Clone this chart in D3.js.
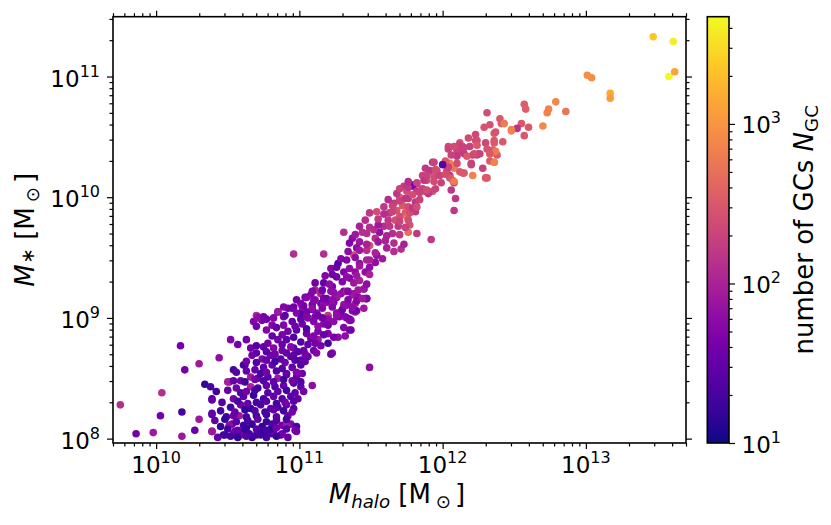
<!DOCTYPE html>
<html>
<head>
<meta charset="utf-8">
<script src="https://cdn.jsdelivr.net/npm/d3@7"></script>
<style>
body{margin:0;background:#fff}
text{font-family:"DejaVu Sans",sans-serif;fill:#000}
</style>
</head>
<body>
<svg id="svg" width="831" height="525"></svg>
<script>
// log10 values: halo mass, stellar mass, number of GCs
var haloLog = [
  // massive end
  13.47,13.61,13.58,13.62,13.01,13.04,13.17,13.17,12.79,12.74,
  12.73,12.86,12.70,12.57,12.58,12.55,12.60,12.57,12.52,12.31,
  12.40,12.41,12.43,12.29,12.33,12.36,12.48,12.42,12.36,12.30,
  12.23,12.23,12.18,12.26,12.24,12.21,12.33,12.35,12.38,12.36,
  12.33,12.04,12.12,12.14,12.12,12.10,12.05,12.20,12.14,12.21,
  12.30,12.28,12.06,12.07,12.08,12.09,12.08,11.92,12.05,
  11.93,11.91,11.96,11.94,11.98,12.03,12.04,12.12,12.24,12.15,
  12.10,12.08,12.12,12.15,12.05,12.08,12.19,12.25,12.31,12.36,
  12.37,12.33,12.36,12.31,12.20,12.48,12.37,
  // middle of the relation
  11.89,11.86,11.82,11.79,11.79,11.73,11.75,11.82,11.88,11.93,
  11.86,11.70,11.76,11.81,11.66,11.72,11.76,11.68,11.74,11.81,
  11.63,11.54,11.62,11.67,11.70,11.75,11.77,11.82,11.76,11.69,
  11.59,11.65,11.56,11.52,11.44,11.53,11.60,11.71,11.61,11.49,
  11.42,11.47,11.31,11.37,11.40,11.54,11.38,10.96,11.17,11.27,
  11.33,11.42,11.47,11.53,11.22,11.31,11.39,11.46,11.26,11.35,
  11.42,11.17,11.45,11.11,11.23,11.31,11.38,11.26,11.47,11.05,
  11.15,11.19,11.34,11.40,11.29,10.96,10.85,11.01,11.11,11.20,
  11.35,
  // dwarf core
  11.08,11.15,11.22,11.29,11.37,11.46,11.33,
  11.01,11.09,11.17,11.24,11.31,11.39,11.37,
  10.70,10.85,10.92,10.98,11.05,11.12,11.20,11.26,11.33,11.39,
  10.68,10.74,10.81,10.95,11.02,11.10,11.17,11.24,11.35,
  10.77,10.92,10.98,11.05,11.13,11.20,11.27,11.35,
  10.52,10.63,10.85,10.91,11.01,11.08,11.13,11.20,11.23,
  10.66,10.75,10.82,10.88,10.96,11.03,11.10,11.15,
  10.44,10.67,10.74,10.80,10.87,10.94,11.01,11.06,10.96,
  10.54,10.61,10.69,10.75,10.81,10.88,10.95,11.01,
  10.51,10.59,10.66,10.71,10.78,10.85,10.91,10.98,11.02,
  10.34,10.38,10.56,10.66,10.71,10.77,10.83,10.89,10.96,11.01,11.09,
  10.39,10.54,10.61,10.68,10.75,10.82,10.88,10.94,10.99,
  10.52,10.59,10.66,10.73,10.80,10.85,10.91,10.96,
  10.39,10.49,10.58,10.63,10.70,10.77,10.84,10.92,
  10.45,10.53,10.61,10.67,10.74,10.81,10.88,10.94,10.98,
  10.39,10.47,10.54,10.61,10.67,10.73,10.81,10.87,10.97,
  // scattered low-mass ones
  9.75,9.86,9.98,10.04,10.03,10.17,10.20,10.18,10.18,10.27,
  10.30,10.30,10.39,10.39,10.39,10.48,10.50,10.54,10.51,10.55,
  10.62,10.71,10.59,10.65,10.70,10.76,10.82,10.88,10.91,10.98,
  10.73,10.80,11.22,11.49,11.36,11.36,11.39,11.45,11.47,
  // more of the dwarf core
  11.04,11.11,11.19,11.26,11.34,11.41,
  10.95,11.02,11.09,11.16,11.23,11.30,11.37,
  10.71,10.77,10.89,11.01,11.06,11.13,11.20,11.28,
  10.70,10.84,10.89,10.97,11.05,11.13,11.20,11.31,
  10.81,10.88,10.96,11.10,11.17,11.24,11.32,
  10.57,10.70,10.78,10.88,10.94,11.06,11.11,
  10.70,10.77,10.83,10.91,10.99,11.04,11.12,
  10.63,10.70,10.77,10.83,10.90,10.97,11.04,
  10.56,10.63,10.73,10.77,10.84,10.91,10.98,
  10.54,10.62,10.69,10.75,10.82,10.89,10.95,11.01,
  10.42,10.50,10.59,10.63,10.69,10.78,10.85,10.91,10.97,11.03,
  10.46,10.57,10.64,10.70,10.77,10.84,10.90,10.96,
  10.45,10.55,10.62,10.69,10.76,10.82,10.89,10.95,
  10.41,10.48,10.56,10.64,10.71,10.77,10.84,10.91,
  10.50,10.57,10.63,10.70,10.77,10.84,10.91,
  10.43,10.52,10.57,10.63,10.77,10.84,10.92,
  // more of the middle band
  10.75,10.82,10.90,11.05,11.16,11.26,11.32,
  10.89,11.03,11.09,11.23,11.32,11.45,
  10.98,11.10,11.17,11.23,11.40,11.44,
  11.09,11.16,11.24,11.34,11.41,
  11.11,11.21,11.30,11.38,11.47,
  11.18,11.23,11.33,11.40,11.49,
  11.26,11.35,11.42,11.49,
  11.29,11.39,11.49,11.58,
  11.34,11.42,11.53,11.66,
  11.35,11.47,11.55,11.66,11.73,
  11.39,11.47,11.61,11.70,
  11.42,11.49,11.55,11.63,11.74,
  11.46,11.55,11.70,11.76,
  11.49,11.59,11.65,11.77,
  11.59,11.65,11.79,11.82,
  11.62,11.70,11.74,11.84,
  11.68,11.79,11.84,11.90,
  11.70,11.76,11.89,11.95,
  11.76,11.82,11.87,11.94,11.99,
  11.89,12.02,
  11.88,11.95,12.04,
  11.94,12.02,12.10,
  12.06,12.17,12.22,
  12.08,12.15,12.24,
  12.00
];
var starLog = [
  11.33,11.29,11.00,11.04,11.01,10.99,10.86,10.82,10.79,10.73,
  10.70,10.71,10.59,10.77,10.73,10.61,10.58,10.51,10.57,10.70,
  10.65,10.61,10.61,10.58,10.60,10.53,10.55,10.46,10.47,10.45,
  10.52,10.47,10.49,10.36,10.35,10.35,10.36,10.39,10.35,10.29,
  10.30,10.42,10.45,10.42,10.38,10.39,10.28,10.27,10.20,10.18,
  10.16,10.24,10.06,10.14,10.12,9.99,9.89,9.65,10.18,
  10.29,10.22,10.22,10.17,10.18,10.22,10.40,10.43,10.47,10.36,
  10.34,10.24,10.21,10.20,10.16,10.13,10.42,10.36,10.40,10.45,
  10.38,10.36,10.29,10.16,10.28,10.56,10.54,
  10.14,10.18,10.11,10.09,10.10,10.09,10.05,10.05,10.05,10.05,
  10.07,10.00,9.99,9.96,9.95,9.93,9.92,9.89,9.87,9.88,
  9.87,9.88,9.81,9.81,9.84,9.84,9.77,9.70,9.71,9.76,
  9.76,9.70,9.71,9.73,9.71,9.66,9.64,9.57,9.58,9.60,
  9.63,9.56,9.71,9.66,9.58,9.52,9.52,9.53,9.53,9.45,
  9.48,9.45,9.48,9.46,9.41,9.38,9.38,9.38,9.34,9.33,
  9.31,9.29,9.24,9.23,9.26,9.22,9.20,9.17,9.16,9.17,
  9.12,9.13,9.11,9.06,9.05,9.09,9.05,9.04,9.01,9.01,
  8.99,
  9.19,9.20,9.22,9.20,9.19,9.16,9.22,
  9.12,9.11,9.12,9.13,9.11,9.12,9.06,
  9.02,9.05,9.08,9.04,9.05,9.04,9.02,9.04,9.00,9.05,
  8.97,8.98,8.94,8.97,8.95,8.97,8.95,8.97,8.98,
  8.90,8.89,8.90,8.87,8.89,8.87,8.84,8.90,
  8.82,8.82,8.82,8.82,8.80,8.83,8.82,8.79,8.71,
  8.75,8.76,8.75,8.73,8.75,8.73,8.73,8.77,
  8.67,8.69,8.66,8.69,8.66,8.68,8.65,8.68,8.69,
  8.57,8.61,8.57,8.59,8.61,8.58,8.59,8.61,
  8.47,8.48,8.51,8.50,8.51,8.50,8.53,8.51,8.54,
  8.45,8.43,8.42,8.43,8.42,8.44,8.43,8.44,8.46,8.43,8.44,
  8.33,8.33,8.35,8.36,8.33,8.35,8.33,8.35,8.33,
  8.26,8.28,8.25,8.28,8.25,8.26,8.28,8.25,
  8.20,8.18,8.19,8.18,8.19,8.20,8.18,8.19,
  8.10,8.12,8.11,8.12,8.10,8.12,8.11,8.12,8.10,
  8.06,8.03,8.04,8.06,8.01,8.03,8.04,8.03,8.07,
  8.28,8.04,8.05,8.38,8.19,8.77,8.57,8.22,8.02,8.07,
  8.62,8.16,8.32,8.21,8.06,8.03,8.47,8.19,8.11,8.06,
  8.61,9.01,8.03,8.04,8.03,8.04,8.06,8.04,8.11,8.06,
  8.08,8.08,8.70,8.59,8.90,8.98,9.06,9.24,9.16,
  9.17,9.15,9.16,9.18,9.15,9.17,
  9.08,9.09,9.07,9.08,9.10,9.07,9.09,
  9.00,8.99,9.01,8.99,9.00,9.02,8.99,9.01,
  8.93,8.92,8.94,8.93,8.91,8.93,8.94,8.92,
  8.85,8.86,8.84,8.85,8.86,8.84,8.85,
  8.78,8.77,8.79,8.78,8.76,8.78,8.79,
  8.71,8.72,8.70,8.71,8.72,8.70,8.71,
  8.64,8.63,8.65,8.64,8.63,8.65,8.64,
  8.55,8.56,8.54,8.55,8.56,8.54,8.55,
  8.48,8.47,8.49,8.48,8.47,8.49,8.48,8.47,
  8.39,8.40,8.38,8.39,8.40,8.38,8.39,8.40,8.38,8.39,
  8.30,8.31,8.29,8.30,8.31,8.29,8.30,8.31,
  8.23,8.22,8.24,8.23,8.22,8.24,8.23,8.22,
  8.15,8.16,8.14,8.15,8.16,8.14,8.15,8.16,
  8.08,8.07,8.09,8.08,8.07,8.09,8.08,
  8.01,8.02,8.01,8.02,8.01,8.02,8.01,
  9.01,9.00,9.02,9.01,9.00,9.02,9.01,
  9.09,9.10,9.08,9.09,9.10,9.08,
  9.15,9.14,9.16,9.15,9.14,9.16,
  9.22,9.23,9.21,9.22,9.23,
  9.29,9.28,9.30,9.29,9.28,
  9.35,9.36,9.34,9.35,9.36,
  9.42,9.41,9.43,9.42,
  9.49,9.50,9.48,9.49,
  9.55,9.56,9.54,9.55,
  9.62,9.61,9.63,9.62,9.61,
  9.69,9.70,9.68,9.69,
  9.76,9.75,9.77,9.76,9.75,
  9.81,9.82,9.80,9.81,
  9.87,9.86,9.88,9.87,
  9.92,9.93,9.91,9.92,
  9.98,9.97,9.99,9.98,
  10.03,10.02,10.04,10.03,
  10.07,10.08,10.06,10.07,
  10.13,10.12,10.14,10.13,10.12,
  10.18,10.19,
  10.24,10.23,10.25,
  10.29,10.30,10.28,
  10.35,10.34,10.36,
  10.42,10.41,10.43,
  10.27
];
var ngcLog = [
  3.35,3.60,3.67,3.10,2.95,2.95,3.15,3.05,2.90,2.85,
  2.85,2.75,2.90,2.55,2.55,2.50,2.50,2.50,2.15,2.40,
  2.50,2.50,2.80,2.45,2.45,2.50,2.85,2.50,2.50,2.35,
  2.35,2.35,2.40,2.30,2.30,2.30,2.80,2.50,2.50,2.80,
  2.50,2.40,2.45,2.45,2.30,2.30,2.80,2.30,2.50,2.85,
  2.50,2.30,2.20,2.80,2.20,2.20,2.20,2.20,2.20,
  2.2,2.2,2.4,2.4,2.3,2.3,2.3,2.3,2.4,2.2,
  2.2,2.8,2.5,2.5,2.5,2.8,2.3,2.3,2.45,2.5,
  2.8,2.5,2.85,2.5,2.3,2.85,2.45,
  2.4,2.3,2.2,2.1,1.6,2.2,2.4,2.2,2.3,2.4,
  2.3,2.6,2.2,2.2,2.2,2.5,2.4,2.45,2.5,2.2,
  2.2,2.4,2.2,2.4,2.4,2.7,2.45,2.2,2.7,2.2,
  2.1,2.1,1.8,2.1,2.1,2.1,2.0,2.1,2.0,2.4,
  1.9,2.1,2.1,1.8,1.8,1.8,2.4,2.1,2.1,1.4,
  1.7,1.8,2.0,1.8,1.7,1.7,1.8,1.8,1.6,1.7,
  2.0,1.5,1.8,2.0,1.6,1.7,1.7,1.6,1.8,1.7,
  1.6,1.7,1.8,1.7,1.6,1.6,1.6,1.4,1.6,2.0,
  1.3,
  1.7,2.0,1.8,1.8,1.9,1.7,2.0,
  1.7,1.6,1.8,1.7,1.9,2.0,1.7,
  2.1,1.9,1.6,1.7,1.6,1.8,2.2,1.8,1.7,1.9,
  1.7,1.6,1.7,1.5,1.6,1.7,1.7,1.8,1.8,
  1.7,1.6,1.4,1.6,1.7,1.7,1.8,1.8,
  1.7,1.6,1.6,1.5,1.4,1.6,1.9,1.3,1.8,
  1.6,1.5,1.7,1.6,1.4,1.6,1.6,1.6,
  1.8,1.6,1.7,1.6,1.4,1.4,1.5,1.6,1.5,
  1.3,1.3,1.5,1.5,1.5,1.4,1.5,1.4,
  1.7,1.6,1.9,1.4,1.4,1.9,1.4,1.5,1.6,
  1.2,1.3,1.6,2.0,1.3,1.5,1.4,1.5,1.4,1.5,1.8,
  1.3,1.6,1.4,1.2,1.3,1.5,1.4,1.4,1.5,
  1.3,1.6,1.2,1.4,1.5,1.4,1.5,1.4,
  1.3,1.3,1.9,1.3,1.2,1.3,1.5,1.6,
  1.2,1.6,1.3,1.2,1.2,1.4,1.6,1.7,1.3,
  1.6,1.2,1.6,1.2,1.2,1.3,1.3,1.3,1.6,
  2.1,1.6,1.9,2.1,1.6,1.6,1.6,1.3,1.9,1.5,
  1.9,1.9,1.5,1.5,1.9,1.3,2.0,1.6,1.8,1.6,
  1.3,1.9,1.6,1.3,1.3,1.2,1.6,1.6,1.9,1.6,
  1.2,1.2,1.6,1.8,1.6,1.7,1.6,1.9,1.7,
  1.7,1.8,1.6,1.9,1.7,1.8,
  1.6,1.8,1.5,1.7,1.9,1.6,1.8,
  1.8,1.6,1.7,1.5,1.7,1.6,1.8,1.7,
  1.6,1.5,1.7,1.6,1.4,1.8,1.6,1.7,
  1.5,1.6,1.4,1.7,1.5,1.6,1.8,
  1.6,1.4,1.6,1.5,1.7,1.5,1.6,
  1.5,1.4,1.6,1.5,1.4,1.6,1.7,
  1.6,1.4,1.5,1.3,1.6,1.4,1.5,
  1.4,1.5,1.3,1.6,1.4,1.5,1.7,
  1.5,1.3,1.6,1.4,1.5,1.3,1.6,1.4,
  1.3,1.5,1.4,1.6,1.3,1.4,1.5,1.3,1.5,1.6,
  1.4,1.3,1.5,1.3,1.4,1.3,1.6,1.4,
  1.3,1.5,1.2,1.4,1.3,1.5,1.3,1.6,
  1.5,1.2,1.4,1.3,1.5,1.2,1.4,1.3,
  1.3,1.5,1.2,1.4,1.3,1.6,1.4,
  1.5,1.3,1.2,1.4,1.3,1.2,1.5,
  1.6,1.7,1.5,1.7,1.6,1.8,1.7,
  1.7,1.6,1.8,1.7,1.8,1.9,
  1.6,1.7,1.6,1.8,1.7,1.9,
  1.7,1.6,1.8,1.7,1.9,
  1.6,1.8,1.7,1.9,1.8,
  1.7,1.6,1.8,1.9,2.0,
  1.5,1.8,1.9,1.8,
  1.7,1.8,2.0,1.9,
  1.8,1.9,2.0,2.1,
  1.7,2.0,1.9,2.1,2.0,
  1.9,2.1,2.0,2.2,
  2.0,2.1,1.9,2.2,2.3,
  2.1,2.2,2.3,2.4,
  2.2,2.1,2.3,2.4,
  2.2,2.3,2.2,2.4,
  2.1,2.3,2.2,2.3,
  2.2,2.4,2.3,2.2,
  2.3,2.2,2.4,2.3,
  2.1,2.3,2.2,2.4,2.3,
  2.3,2.4,
  2.2,2.4,2.3,
  2.3,2.5,2.4,
  2.3,2.5,2.4,
  2.4,2.3,2.5,
  1.4
];

// ticks: [value, exponent text]
var xTicks = [[1e10,"10"],[1e11,"11"],[1e12,"12"],[1e13,"13"]];
var yTicks = [[1e8,"8"],[1e9,"9"],[1e10,"10"],[1e11,"11"]];
var cTicks = [[10,"1"],[100,"2"],[1000,"3"]];

var L = 113, R = 686, T = 16.7, B = 443;
var svg = d3.select("svg");

var x = d3.scaleLog().domain([5e9, 5e13]).range([L, R]);
var y = d3.scaleLog().domain([9.2e7, 3.13e11]).range([B, T]);
var color = d3.scaleSequentialLog(d3.interpolatePlasma).domain([10, 4700]);

var pts = haloLog.map(function(h, i){
  return {mh: Math.pow(10, h), ms: Math.pow(10, starLog[i]), n: Math.pow(10, ngcLog[i])};
});

svg.append("clipPath").attr("id","clip").append("rect")
  .attr("x", L).attr("y", T).attr("width", R-L).attr("height", B-T);

svg.append("g").attr("clip-path","url(#clip)")
  .selectAll("circle").data(pts).enter().append("circle")
  .attr("cx", function(d){return x(d.mh)})
  .attr("cy", function(d){return y(d.ms)})
  .attr("r", 3.8)
  .attr("fill", function(d){return color(d.n)});

function isMajor(v){ return Math.abs(Math.log10(v) - Math.round(Math.log10(v))) < 1e-6; }
var xMinor = x.ticks().filter(function(v){return !isMajor(v)});
var yMinor = y.ticks().filter(function(v){return !isMajor(v)});

function tickGroup(axis, tr){
  var g = svg.append("g").attr("transform", tr).call(axis);
  g.select(".domain").remove();
  g.selectAll("line").attr("stroke","#000").attr("stroke-width",1.2);
  return g;
}
var xMaj = xTicks.map(function(t){return t[0]});
var yMaj = yTicks.map(function(t){return t[0]});
[[d3.axisBottom,"translate(0,"+B+")"],[d3.axisTop,"translate(0,"+T+")"]].forEach(function(a){
  tickGroup(a[0](x).tickValues(xMinor).tickSize(3.5).tickFormat(""), a[1]);
  tickGroup(a[0](x).tickValues(xMaj).tickSize(6).tickFormat(""), a[1]);
});
[[d3.axisLeft,"translate("+L+",0)"],[d3.axisRight,"translate("+R+",0)"]].forEach(function(a){
  tickGroup(a[0](y).tickValues(yMinor).tickSize(3.5).tickFormat(""), a[1]);
  tickGroup(a[0](y).tickValues(yMaj).tickSize(6).tickFormat(""), a[1]);
});

svg.append("rect").attr("x", L).attr("y", T).attr("width", R-L).attr("height", B-T)
  .attr("fill","none").attr("stroke","#000").attr("stroke-width",1.6);

function powLabel(sel, exp){
  sel.append("tspan").text("10");
  sel.append("tspan").attr("font-size",16).attr("dy",-10).text(exp);
}

svg.append("g").selectAll("text").data(xTicks).enter().append("text")
  .attr("x", function(d){return x(d[0])}).attr("y", 473.3)
  .attr("text-anchor","middle").attr("font-size",23)
  .each(function(d){ powLabel(d3.select(this), d[1]); });

svg.append("g").selectAll("text").data(yTicks).enter().append("text")
  .attr("x", 100).attr("y", function(d){return y(d[0]) + 10})
  .attr("text-anchor","end").attr("font-size",23)
  .each(function(d){ powLabel(d3.select(this), d[1]); });

// axis titles
var xt = svg.append("text").attr("x", 397).attr("y", 503).attr("text-anchor","middle").attr("font-size",26);
xt.append("tspan").attr("font-style","italic").text("M");
xt.append("tspan").attr("font-style","italic").attr("font-size",18.2).attr("dy",5).text("halo");
xt.append("tspan").attr("dy",-5).text(" [M");
xt.append("tspan").attr("font-size",18.2).attr("dy",5).attr("dx",5).text("\u2299");
xt.append("tspan").attr("dy",-5).attr("dx",4).text("]");

var yt = svg.append("text").attr("transform","translate(34,"+((T+B)/2)+") rotate(-90)")
  .attr("text-anchor","middle").attr("font-size",26);
yt.append("tspan").attr("font-style","italic").text("M");
yt.append("tspan").attr("font-size",18.2).attr("dx",1).text("\u2217");
yt.append("tspan").text(" [M");
yt.append("tspan").attr("font-size",18.2).attr("dy",5).attr("dx",5).text("\u2299");
yt.append("tspan").attr("dy",-5).attr("dx",4).text("]");

// colorbar
var CL = 707.3, CR = 729;
var cy = d3.scaleLog().domain(color.domain()).range([B, T]);
var grad = svg.append("defs").append("linearGradient").attr("id","cbar")
  .attr("x1",0).attr("y1",1).attr("x2",0).attr("y2",0);
d3.range(0, 1.0001, 0.05).forEach(function(t){
  grad.append("stop").attr("offset", t).attr("stop-color", d3.interpolatePlasma(t));
});
svg.append("rect").attr("x", CL).attr("y", T).attr("width", CR-CL).attr("height", B-T)
  .attr("fill","url(#cbar)");
var cMinor = cy.ticks().filter(function(v){return !isMajor(v)});
tickGroup(d3.axisRight(cy).tickValues(cMinor).tickSize(3.5).tickFormat(""), "translate("+CR+",0)");
tickGroup(d3.axisRight(cy).tickValues(cTicks.map(function(t){return t[0]})).tickSize(6).tickFormat(""), "translate("+CR+",0)");
svg.append("rect").attr("x", CL).attr("y", T).attr("width", CR-CL).attr("height", B-T)
  .attr("fill","none").attr("stroke","#000").attr("stroke-width",1.6);

svg.append("g").selectAll("text").data(cTicks).enter().append("text")
  .attr("x", 741.5).attr("y", function(d){return cy(d[0]) + 9.5})
  .attr("font-size",23)
  .each(function(d){ powLabel(d3.select(this), d[1]); });

var ct = svg.append("text").attr("transform","translate(813,"+((T+B)/2)+") rotate(-90)")
  .attr("text-anchor","middle").attr("font-size",26);
ct.append("tspan").text("number of GCs ");
ct.append("tspan").attr("font-style","italic").text("N");
ct.append("tspan").attr("font-size",18.2).attr("dy",5).text("GC");
</script>
</body>
</html>
